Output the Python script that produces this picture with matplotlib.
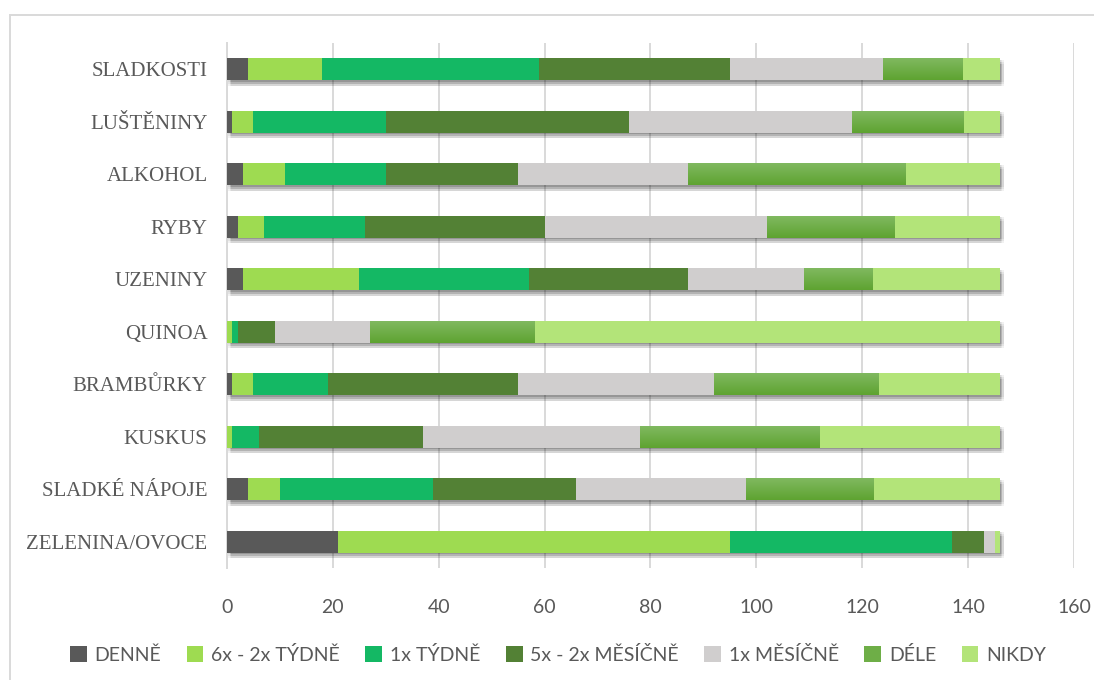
import numpy as np
import matplotlib
matplotlib.use('Agg')
import matplotlib.pyplot as plt
import matplotlib.patheffects as pe
from matplotlib.colors import LinearSegmentedColormap
from matplotlib.patches import Rectangle

# categories listed top to bottom
categories = ['SLADKOSTI', 'LUŠTĚNINY', 'ALKOHOL', 'RYBY', 'UZENINY',
              'QUINOA', 'BRAMBŮRKY', 'KUSKUS', 'SLADKÉ NÁPOJE', 'ZELENINA/OVOCE']
series = ['DENNĚ', '6x - 2x TÝDNĚ', '1x TÝDNĚ', '5x - 2x MĚSÍČNĚ',
          '1x MĚSÍČNĚ', 'DÉLE', 'NIKDY']

denne = [4, 1, 3, 2, 3, 0, 1, 0, 4, 21]
tydne_6_2 = [14, 4, 8, 5, 22, 1, 4, 1, 6, 74]
tydne_1 = [41, 25, 19, 19, 32, 1, 14, 5, 29, 42]
mesicne_5_2 = [36, 46, 25, 34, 30, 7, 36, 31, 27, 6]
mesicne_1 = [29, 42, 32, 42, 22, 18, 37, 41, 32, 2]
dele = [15, 21, 41, 24, 13, 31, 31, 34, 24, 0]
nikdy = [7, 7, 18, 20, 24, 88, 23, 34, 24, 1]

values = [denne, tydne_6_2, tydne_1, mesicne_5_2, mesicne_1, dele, nikdy]
colors = ['#595959', '#9edb51', '#14b864', '#538135', '#d0cece', '#6eae47', '#b3e479']
text_color = '#595959'
grid_color = '#d9d9d9'

fig = plt.figure(figsize=(10.94, 6.8), dpi=100)
ax = fig.add_axes([0.2075, 0.1647, 0.7742, 0.7721])

y = np.arange(len(categories))
bar_h = 0.42

# soft drop shadow under each whole row
totals = np.sum(values, axis=0)
shadow = [pe.SimplePatchShadow(offset=(dx, dy), shadow_rgbFace='black', alpha=0.055)
          for dx in (0.8, 1.8, 2.8) for dy in (-1.2, -2.6, -4.0)]
ax.barh(y, totals, height=bar_h, color='white', zorder=2,
        path_effects=shadow + [pe.Normal()])

dele_cmap = LinearSegmentedColormap.from_list('dele', ['#82ba62', '#5ea331'])
left = np.zeros(len(categories))
for name, vals, col in zip(series, values, colors):
    bars = ax.barh(y, vals, left=left, height=bar_h, color=col, label=name, zorder=3)
    if name == 'DÉLE':
        # vertical gradient fill for this series
        for b in bars:
            if b.get_width() <= 0:
                continue
            x0, y0 = b.get_x(), b.get_y()
            im = ax.imshow(np.linspace(0, 1, 64).reshape(-1, 1), cmap=dele_cmap,
                           extent=(x0, x0 + b.get_width(), y0 + b.get_height(), y0),
                           origin='upper', aspect='auto', zorder=3.5)
            im.set_clip_path(b)
    left += np.array(vals)

ax.set_xlim(0, 160)
ax.set_ylim(len(categories) - 0.5, -0.5)
ax.set_xticks(np.arange(0, 161, 20))
ax.set_yticks(y)
ax.set_yticklabels(categories, fontfamily='Liberation Serif', fontsize=15, color=text_color)
ax.tick_params(axis='x', length=0, pad=22, labelsize=14, labelcolor=text_color)
ax.tick_params(axis='y', length=0, pad=14)
for lab in ax.get_xticklabels():
    lab.set_fontfamily('Lato')

ax.xaxis.grid(True, color=grid_color, linewidth=1.4, zorder=0)
ax.set_axisbelow(True)
for s in ['top', 'right', 'bottom']:
    ax.spines[s].set_visible(False)
ax.spines['left'].set_color(grid_color)
ax.spines['left'].set_linewidth(1.4)

leg = fig.legend(*ax.get_legend_handles_labels(), loc='center', ncol=7,
                 bbox_to_anchor=(0.51, 1 - 655 / 680), frameon=False,
                 prop={'family': 'Lato', 'size': 14}, handlelength=0.87,
                 handleheight=0.87, handletextpad=0.4, columnspacing=1.3)
for t in leg.get_texts():
    t.set_color(text_color)

# outer chart frame
fig.patches.append(Rectangle((10 / 1094, -0.1), 1.2, 1.1 - 15 / 680, transform=fig.transFigure,
                             fill=False, edgecolor=grid_color, linewidth=1.4))

fig.savefig('out.png', dpi=100)
